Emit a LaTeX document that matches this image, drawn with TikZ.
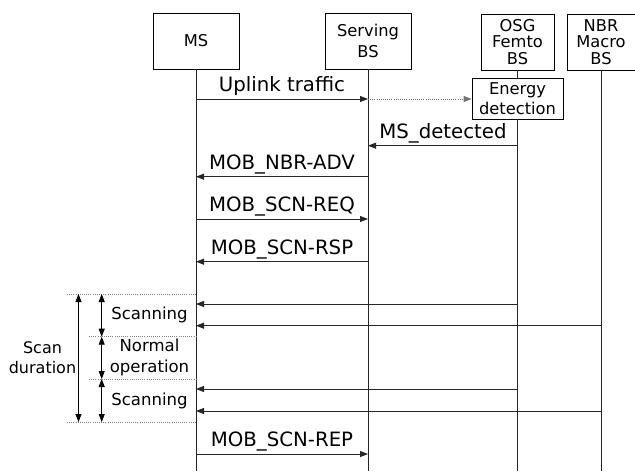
\documentclass[tikz,border=0pt]{standalone}
\usepackage{fontspec}
\setmainfont{DejaVu Sans}
\usepackage{tikz}
\usetikzlibrary{arrows.meta,positioning}

\tikzset{
  entity/.style={draw, line width=0.6pt, align=center, inner sep=0pt, minimum height=42pt, font=\fontsize{12.2}{12.4}\selectfont},
  life/.style={line width=0.6pt, draw=black!85},
  msg/.style={line width=0.6pt, draw=black!85, -{Triangle[length=6pt,width=4.5pt]}},
  hint/.style={msg, densely dotted, draw=black!55},
  sep/.style={line width=0.6pt, densely dotted, draw=black!50},
  span/.style={line width=0.6pt, {Triangle[length=6pt,width=4.5pt]}-{Triangle[length=6pt,width=4.5pt]}},
  lbl/.style={anchor=base, inner sep=0pt, font=\fontsize{14.8}{16}\selectfont},
  side/.style={align=center, inner sep=0pt, font=\fontsize{12.4}{16}\selectfont},
}

\begin{document}
\begin{tikzpicture}[x=0.75pt,y=0.75pt,yscale=-1,xscale=1]
\useasboundingbox (0,0) rectangle (635,471);
% Boxes
\node [entity, minimum width=64.5pt] (ms) at (196,41) {MS};
\node [entity, minimum width=64.5pt, font=\fontsize{12.2}{15.5}\selectfont] (sbs) at (368,41) {Serving\\BS};
\node [entity, minimum width=54.75pt] (osg) at (517.5,42) {OSG\\Femto\\BS};
\node [entity, minimum width=51pt] (nbr) at (601,42) {NBR\\Macro\\BS};
\node [entity, minimum width=68.25pt, minimum height=30.75pt, font=\fontsize{12.2}{15}\selectfont] (ed) at (517.5,98.5) {Energy\\detection};
% Rows
\coordinate (bot) at (0,471);
\coordinate (r1) at (0,99);
\coordinate (r2) at (0,145.7);
\coordinate (r3) at (0,176.7);
\coordinate (r4) at (0,219);
\coordinate (r5) at (0,261.7);
\coordinate (s1) at (0,304);
\coordinate (s2) at (0,325.7);
\coordinate (s3) at (0,389);
\coordinate (s4) at (0,411);
\coordinate (r6) at (0,454);
\coordinate (d1) at (67,294);
\coordinate (d2) at (89,336.7);
\coordinate (d3) at (89,379);
\coordinate (d4) at (67,422);
\coordinate (sx) at (78.5,0);
\coordinate (px) at (101.7,0);
% Lifelines
\draw [life] (ms) -- (ms |- bot);
\draw [life] (sbs) -- (sbs |- bot);
\draw [life] (osg) -- (ed);
\draw [life] (ed) -- (ed |- bot);
\draw [life] (nbr) -- (nbr |- bot);
% Messages
\draw [msg] (ms |- r1) -- (sbs |- r1);
\draw [hint] (sbs |- r1) -- (ed.west |- r1);
\draw [msg] (ed |- r2) -- (sbs |- r2);
\draw [msg] (sbs |- r3) -- (ms |- r3);
\draw [msg] (ms |- r4) -- (sbs |- r4);
\draw [msg] (sbs |- r5) -- (ms |- r5);
\draw [msg] (ed |- s1) -- (ms |- s1);
\draw [msg] (nbr |- s2) -- (ms |- s2);
\draw [msg] (ed |- s3) -- (ms |- s3);
\draw [msg] (nbr |- s4) -- (ms |- s4);
\draw [msg] (ms |- r6) -- (sbs |- r6);
% Scan period
\draw [sep] (d1) -- (ms |- d1);
\draw [sep] (d2) -- (ms |- d2);
\draw [sep] (d3) -- (ms |- d3);
\draw [sep] (d4) -- (ms |- d4);
\draw [span] (sx |- d1) -- (sx |- d4);
\draw [span] (px |- d1) -- (px |- d2);
\draw [span] (px |- d2) -- (px |- d3);
\draw [span] (px |- d3) -- (px |- d4);
% Text Node
\node [lbl] (t1) at (282,91.5) {Uplink traffic};
\node [lbl] (t2) at (443,138) {MS\_detected};
\node [lbl] (t3) at (282,169.5) {MOB\_NBR-ADV};
\node [lbl] (t4) at (282,211.5) {MOB\_SCN-REQ};
\node [lbl] (t5) at (282,254) {MOB\_SCN-RSP};
\node [lbl] (t6) at (282,446.5) {MOB\_SCN-REP};
% Text Node
\node [side] (c1) at (149.5,315) {Scanning};
\node [side] (c2) at (149.5,357.5) {Normal\\operation};
\node [side] (c3) at (149.5,400.5) {Scanning};
\node [side, font=\fontsize{12}{15}\selectfont] (c4) at (42.5,358) {Scan\\duration};
\end{tikzpicture}
\end{document}
